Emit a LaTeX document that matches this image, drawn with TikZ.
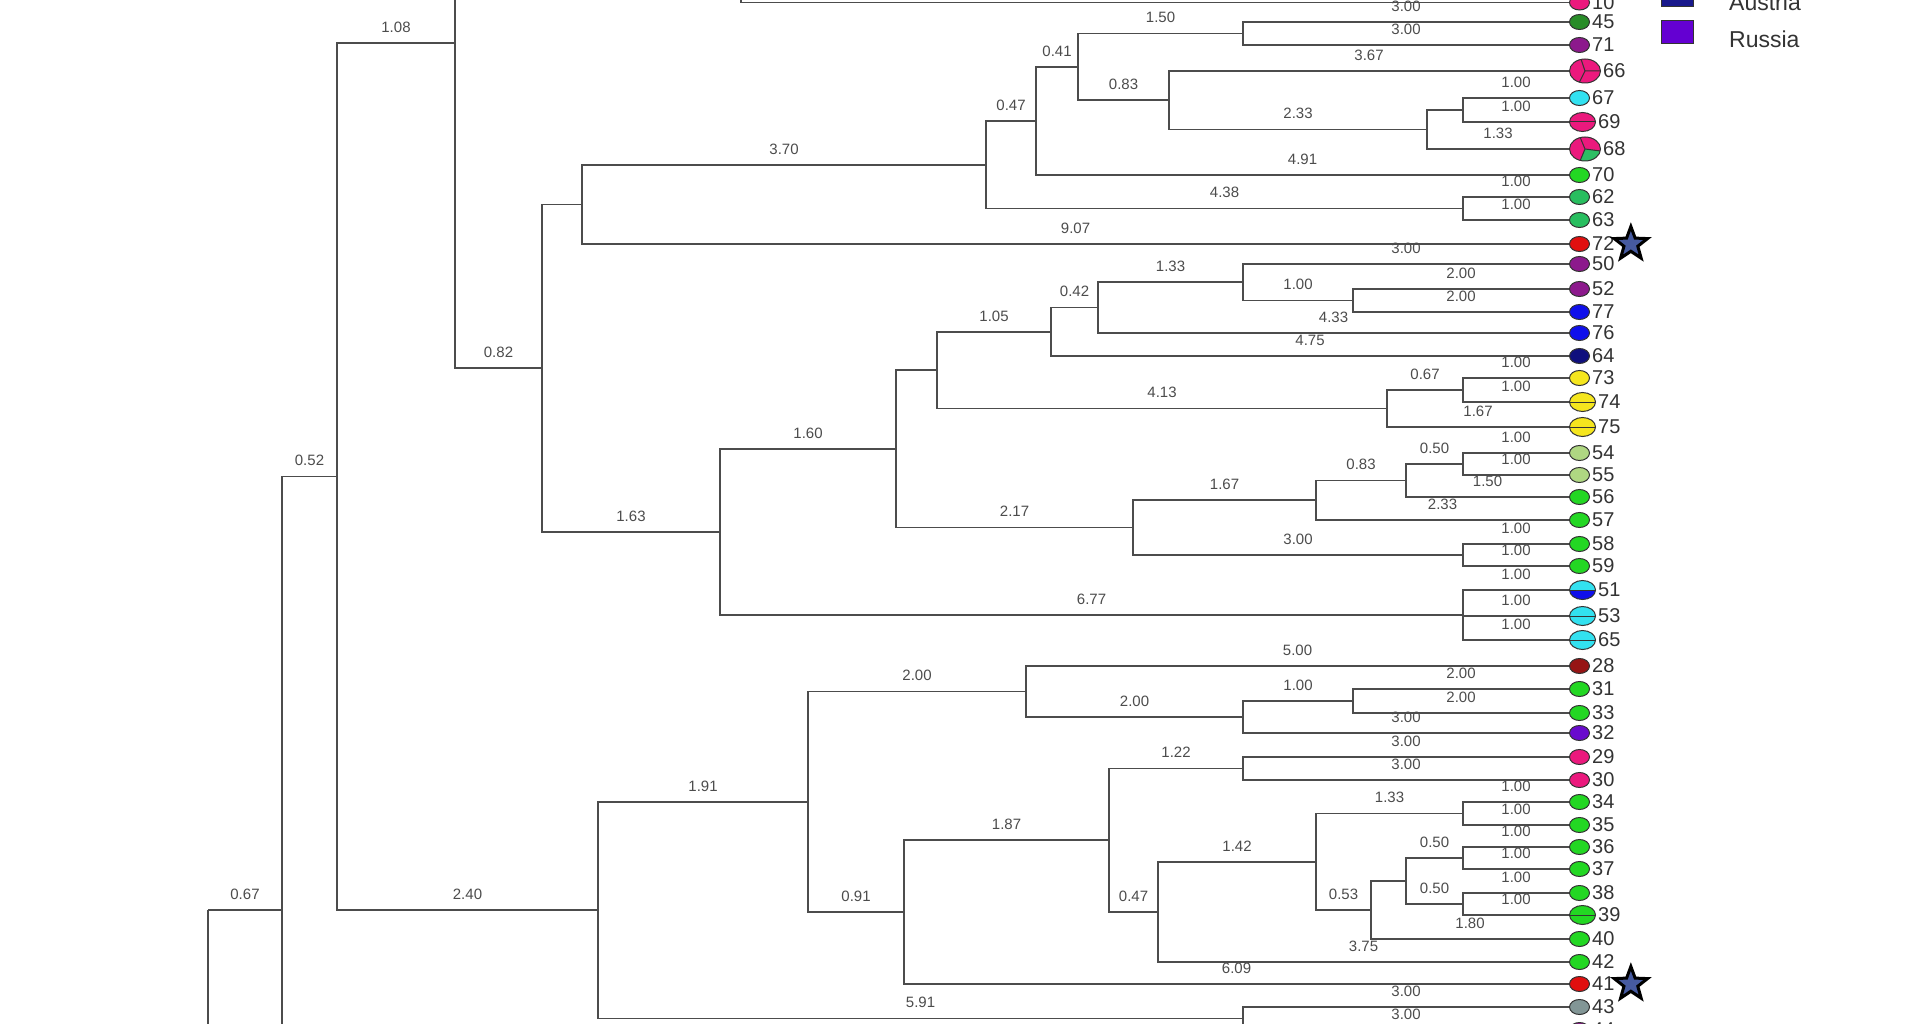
\documentclass[tikz,border=0pt]{standalone}
\usepackage{fontspec}
\setmainfont{Liberation Sans}
\usetikzlibrary{positioning,shapes.geometric}

\definecolor{cpink}{RGB}{235,25,125}
\definecolor{cgreen}{RGB}{35,215,35}
\definecolor{cdgreen}{RGB}{40,140,40}
\definecolor{cmgreen}{RGB}{40,190,95}
\definecolor{cpgreen}{RGB}{45,190,100}
\definecolor{clgreen}{RGB}{175,215,130}
\definecolor{cpurple}{RGB}{140,25,140}
\definecolor{ccyan}{RGB}{50,225,240}
\definecolor{cred}{RGB}{225,15,15}
\definecolor{cdred}{RGB}{150,20,20}
\definecolor{cblue}{RGB}{15,15,235}
\definecolor{cnavy}{RGB}{15,15,125}
\definecolor{cyellow}{RGB}{245,230,30}
\definecolor{cviolet}{RGB}{105,10,205}
\definecolor{cgray}{RGB}{130,150,150}
\definecolor{cstar}{RGB}{70,90,160}
\definecolor{caustria}{RGB}{25,25,140}
\definecolor{crussia}{RGB}{100,0,210}

\tikzset{
  br/.style={draw=black!70, line width=1.6pt},
  bl/.style={pos=0.75, above=9pt, inner sep=1pt, text=black!70, font=\fontsize{15}{15}\selectfont},
  leaf/.style={ellipse, draw=black!80, line width=1pt, minimum width=20pt, minimum height=15pt, inner sep=0pt},
  midleaf/.style={leaf, minimum width=26pt, minimum height=19pt},
  bigleaf/.style={leaf, minimum width=31pt, minimum height=24pt},
  midsplit/.style={midleaf, path picture={
      \draw[black!80, line width=1pt] (path picture bounding box.west) -- (path picture bounding box.east);}},
  halfblue/.style={midleaf, path picture={
      \fill[cblue] (path picture bounding box.west) rectangle (path picture bounding box.south east);
      \draw[black!80, line width=1pt] (path picture bounding box.west) -- (path picture bounding box.east);}},
  bigthree/.style={bigleaf, path picture={
      \draw[black!80, line width=1pt] (path picture bounding box.center) -- (path picture bounding box.east)
        (path picture bounding box.center) -- ([xshift=-4pt]path picture bounding box.north)
        (path picture bounding box.center) -- ([xshift=-6pt]path picture bounding box.south);}},
  bigpie/.style={bigleaf, path picture={
      \fill[cpgreen] (path picture bounding box.center) -- ([yshift=-2pt]path picture bounding box.east)
        -- (path picture bounding box.south east) -- ([xshift=-5pt]path picture bounding box.south) -- cycle;
      \draw[black!80, line width=1pt] (path picture bounding box.center) -- ([yshift=-2pt]path picture bounding box.east)
        (path picture bounding box.center) -- ([xshift=-5pt]path picture bounding box.south)
        (path picture bounding box.center) -- ([xshift=-5pt]path picture bounding box.north);}},
  leaflab/.style={inner sep=1pt, text=black!80, font=\fontsize{20}{20}\selectfont},
  starmark/.style={star, star points=5, star point ratio=2.4, minimum size=35pt, inner sep=0pt,
      fill=cstar, draw=black, line width=3pt},
  legbox/.style={draw=black!80, line width=1pt, minimum width=32pt, minimum height=23pt, inner sep=0pt},
  legtext/.style={anchor=west, inner sep=0pt, text=black!80, font=\fontsize{23}{23}\selectfont}
}

\begin{document}
\begin{tikzpicture}[x=1pt,y=-1pt]
  \useasboundingbox (0,0) rectangle (1920,1024);
  \fill[white] (0,0) rectangle (1920,1024);

  % leaves
  \foreach \n/\y/\col/\st in {10/2.5/cpink/leaf, 45/22/cdgreen/leaf, 71/45/cpurple/leaf,
      66/71/cpink/bigthree, 67/98/ccyan/leaf, 69/122/cpink/midsplit, 68/149/cpink/bigpie,
      70/175/cgreen/leaf, 62/197/cmgreen/leaf, 63/220/cmgreen/leaf, 72/244/cred/leaf,
      50/264/cpurple/leaf, 52/289/cpurple/leaf, 77/312/cblue/leaf, 76/333/cblue/leaf,
      64/356/cnavy/leaf, 73/378/cyellow/leaf, 74/402/cyellow/midsplit, 75/427/cyellow/midsplit,
      54/453/clgreen/leaf, 55/475/clgreen/leaf, 56/497/cgreen/leaf, 57/520/cgreen/leaf,
      58/544/cgreen/leaf, 59/566/cgreen/leaf, 51/590/ccyan/halfblue, 53/616/ccyan/midsplit,
      65/640/ccyan/midsplit, 28/666/cdred/leaf, 31/689/cgreen/leaf, 33/713/cgreen/leaf,
      32/733/cviolet/leaf, 29/757/cpink/leaf, 30/780/cpink/leaf, 34/802/cgreen/leaf,
      35/825/cgreen/leaf, 36/847/cgreen/leaf, 37/869/cgreen/leaf, 38/893/cgreen/leaf,
      39/915/cgreen/midsplit, 40/939/cgreen/leaf, 42/962/cgreen/leaf, 41/984/cred/leaf,
      43/1007/cgray/leaf, 44/1030/cpurple/leaf}{
    \node[\st, fill=\col, anchor=west] (l\n) at (1569,\y) {};
    \node[leaflab, right=1pt of l\n] (t\n) {\n};
  }
  \node[starmark, right=3pt of t72] (s72) {};
  \node[starmark, right=3pt of t41] (s41) {};

  % legend
  \node[legbox, fill=caustria] (kaus) at (1677,-4.5) {};
  \node[legtext] (taus) at (1729,2) {Austria};
  \node[legbox, fill=crussia] (krus) at (1677,32.5) {};
  \node[legtext] (trus) at (1729,39) {Russia};

  % inner nodes
  \coordinate (n208) at (208,910);
  \coordinate (nbotb) at (250,1200);
  \coordinate (n282) at (282,910);
  \coordinate (nbota) at (400,1150);
  \coordinate (n337) at (337,476.5);
  \coordinate (n455) at (455,43);
  \coordinate (n741) at (741,-40);
  \coordinate (n542) at (542,368);
  \coordinate (n582) at (582,204.5);
  \coordinate (n986) at (986,165);
  \coordinate (n1036) at (1036,121);
  \coordinate (n1078) at (1078,67);
  \coordinate (n1243a) at (1243,33.5);
  \coordinate (n1169) at (1169,100);
  \coordinate (n1427) at (1427,129.5);
  \coordinate (n1463a) at (1463,110);
  \coordinate (n1463b) at (1463,208.5);
  \coordinate (n720) at (720,532);
  \coordinate (n896) at (896,449);
  \coordinate (n937) at (937,370);
  \coordinate (n1051) at (1051,332);
  \coordinate (n1098) at (1098,307.5);
  \coordinate (n1243b) at (1243,282);
  \coordinate (n1353a) at (1353,300.5);
  \coordinate (n1387) at (1387,408.5);
  \coordinate (n1463d) at (1463,390);
  \coordinate (n1133) at (1133,527.5);
  \coordinate (n1316a) at (1316,500);
  \coordinate (n1406a) at (1406,480.5);
  \coordinate (n1463f) at (1463,464);
  \coordinate (n1463e) at (1463,555);
  \coordinate (n1463c) at (1463,615);
  \coordinate (n598) at (598,910);
  \coordinate (n808) at (808,802);
  \coordinate (n1026) at (1026,691.5);
  \coordinate (n1243d) at (1243,717);
  \coordinate (n1353b) at (1353,701);
  \coordinate (n904) at (904,912);
  \coordinate (n1109) at (1109,840);
  \coordinate (n1243e) at (1243,768.5);
  \coordinate (n1158) at (1158,912);
  \coordinate (n1316b) at (1316,862);
  \coordinate (n1463g) at (1463,813.5);
  \coordinate (n1371) at (1371,910);
  \coordinate (n1406b) at (1406,881);
  \coordinate (n1463h) at (1463,858);
  \coordinate (n1463i) at (1463,904);
  \coordinate (n1243c) at (1243,1018.5);

  % upper clade
  \draw[br] (n208) |- (n282) node[bl]{0.67};
  \draw[br] (n208) |- (nbotb);
  \draw[br] (n282) |- (n337) node[bl]{0.52};
  \draw[br] (n282) |- (nbota);
  \draw[br] (n337) |- (n455) node[bl]{1.08};
  \draw[br] (n337) |- (n598) node[bl]{2.40};
  \draw[br] (n455) |- (n741);
  \draw[br] (n455) |- (n542) node[bl]{0.82};
  \draw[br] (n741) |- (l10.west);
  \draw[br] (n542) |- (n582);
  \draw[br] (n542) |- (n720) node[bl]{1.63};
  \draw[br] (n582) |- (n986) node[bl]{3.70};
  \draw[br] (n582) |- (l72.west) node[bl]{9.07};
  \draw[br] (n986) |- (n1036) node[bl]{0.47};
  \draw[br] (n986) |- (n1463b) node[bl]{4.38};
  \draw[br] (n1036) |- (n1078) node[bl]{0.41};
  \draw[br] (n1036) |- (l70.west) node[bl]{4.91};
  \draw[br] (n1078) |- (n1243a) node[bl]{1.50};
  \draw[br] (n1078) |- (n1169) node[bl]{0.83};
  \draw[br] (n1243a) |- (l45.west) node[bl]{3.00};
  \draw[br] (n1243a) |- (l71.west) node[bl]{3.00};
  \draw[br] (n1169) |- (l66.west) node[bl]{3.67};
  \draw[br] (n1169) |- (n1427) node[bl]{2.33};
  \draw[br] (n1427) |- (n1463a);
  \draw[br] (n1427) |- (l68.west) node[bl]{1.33};
  \draw[br] (n1463a) |- (l67.west) node[bl]{1.00};
  \draw[br] (n1463a) |- (l69.west) node[bl]{1.00};
  \draw[br] (n1463b) |- (l62.west) node[bl]{1.00};
  \draw[br] (n1463b) |- (l63.west) node[bl]{1.00};

  % middle clade
  \draw[br] (n720) |- (n896) node[bl]{1.60};
  \draw[br] (n720) |- (n1463c) node[bl]{6.77};
  \draw[br] (n896) |- (n937);
  \draw[br] (n896) |- (n1133) node[bl]{2.17};
  \draw[br] (n937) |- (n1051) node[bl]{1.05};
  \draw[br] (n937) |- (n1387) node[bl]{4.13};
  \draw[br] (n1051) |- (n1098) node[bl]{0.42};
  \draw[br] (n1051) |- (l64.west) node[bl]{4.75};
  \draw[br] (n1098) |- (n1243b) node[bl]{1.33};
  \draw[br] (n1098) |- (l76.west) node[bl]{4.33};
  \draw[br] (n1243b) |- (l50.west) node[bl]{3.00};
  \draw[br] (n1243b) |- (n1353a) node[bl]{1.00};
  \draw[br] (n1353a) |- (l52.west) node[bl]{2.00};
  \draw[br] (n1353a) |- (l77.west) node[bl]{2.00};
  \draw[br] (n1387) |- (n1463d) node[bl]{0.67};
  \draw[br] (n1387) |- (l75.west) node[bl]{1.67};
  \draw[br] (n1463d) |- (l73.west) node[bl]{1.00};
  \draw[br] (n1463d) |- (l74.west) node[bl]{1.00};
  \draw[br] (n1133) |- (n1316a) node[bl]{1.67};
  \draw[br] (n1133) |- (n1463e) node[bl]{3.00};
  \draw[br] (n1316a) |- (n1406a) node[bl]{0.83};
  \draw[br] (n1316a) |- (l57.west) node[bl]{2.33};
  \draw[br] (n1406a) |- (n1463f) node[bl]{0.50};
  \draw[br] (n1406a) |- (l56.west) node[bl]{1.50};
  \draw[br] (n1463f) |- (l54.west) node[bl]{1.00};
  \draw[br] (n1463f) |- (l55.west) node[bl]{1.00};
  \draw[br] (n1463e) |- (l58.west) node[bl]{1.00};
  \draw[br] (n1463e) |- (l59.west) node[bl]{1.00};
  \draw[br] (n1463c) |- (l51.west) node[bl]{1.00};
  \draw[br] (n1463c) |- (l53.west) node[bl]{1.00};
  \draw[br] (n1463c) |- (l65.west) node[bl]{1.00};

  % lower clade
  \draw[br] (n598) |- (n808) node[bl]{1.91};
  \draw[br] (n598) |- (n1243c) node[bl]{5.91};
  \draw[br] (n808) |- (n1026) node[bl]{2.00};
  \draw[br] (n808) |- (n904) node[bl]{0.91};
  \draw[br] (n1026) |- (l28.west) node[bl]{5.00};
  \draw[br] (n1026) |- (n1243d) node[bl]{2.00};
  \draw[br] (n1243d) |- (n1353b) node[bl]{1.00};
  \draw[br] (n1243d) |- (l32.west) node[bl]{3.00};
  \draw[br] (n1353b) |- (l31.west) node[bl]{2.00};
  \draw[br] (n1353b) |- (l33.west) node[bl]{2.00};
  \draw[br] (n904) |- (n1109) node[bl]{1.87};
  \draw[br] (n904) |- (l41.west) node[bl]{6.09};
  \draw[br] (n1109) |- (n1243e) node[bl]{1.22};
  \draw[br] (n1109) |- (n1158) node[bl]{0.47};
  \draw[br] (n1243e) |- (l29.west) node[bl]{3.00};
  \draw[br] (n1243e) |- (l30.west) node[bl]{3.00};
  \draw[br] (n1158) |- (n1316b) node[bl]{1.42};
  \draw[br] (n1158) |- (l42.west) node[bl]{3.75};
  \draw[br] (n1316b) |- (n1463g) node[bl]{1.33};
  \draw[br] (n1316b) |- (n1371) node[bl]{0.53};
  \draw[br] (n1463g) |- (l34.west) node[bl]{1.00};
  \draw[br] (n1463g) |- (l35.west) node[bl]{1.00};
  \draw[br] (n1371) |- (n1406b);
  \draw[br] (n1371) |- (l40.west) node[bl]{1.80};
  \draw[br] (n1406b) |- (n1463h) node[bl]{0.50};
  \draw[br] (n1406b) |- (n1463i) node[bl]{0.50};
  \draw[br] (n1463h) |- (l36.west) node[bl]{1.00};
  \draw[br] (n1463h) |- (l37.west) node[bl]{1.00};
  \draw[br] (n1463i) |- (l38.west) node[bl]{1.00};
  \draw[br] (n1463i) |- (l39.west) node[bl]{1.00};
  \draw[br] (n1243c) |- (l43.west) node[bl]{3.00};
  \draw[br] (n1243c) |- (l44.west) node[bl]{3.00};
\end{tikzpicture}
\end{document}
